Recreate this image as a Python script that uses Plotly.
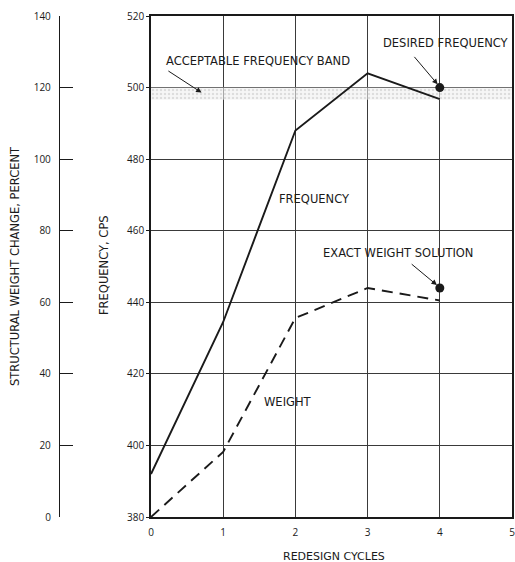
import plotly.graph_objects as go

cycles = [0, 1, 2, 3, 4]
frequency_cps = [392, 434.5, 488, 504, 496.8]
weight_pct = [0, 18.2, 55.6, 64, 60.5]
desired_cycle, desired_freq = 4, 500
exact_cycle, exact_weight_pct = 4, 64
band_low, band_high = 496.6, 500
x_ticks = [0, 1, 2, 3, 4, 5]
freq_ticks = [380, 400, 420, 440, 460, 480, 500, 520]
weight_ticks = [0, 20, 40, 60, 80, 100, 120, 140]

LFONT = "DejaVu Sans"
TFONT = "Open Sans"
INK = "#1a1a1a"
W, H = 515, 562

def px(x):   # screen pixel -> paper fraction
    return x / W

def py(y):
    return 1 - y / H

fig = go.Figure()

# acceptable frequency band (stippled)
fig.add_trace(go.Scatter(
    x=[0, 5, 5, 0, 0], y=[band_low, band_low, band_high, band_high, band_low],
    mode="lines", line=dict(width=0), fill="toself",
    fillcolor="rgba(220,220,220,0.3)",
    fillpattern=dict(shape=".", fgcolor="#c4c4c4", bgcolor="rgba(240,240,240,0.6)", size=4, solidity=0.3),
    hoverinfo="skip", showlegend=False))

fig.add_trace(go.Scatter(x=cycles, y=frequency_cps, mode="lines",
                         line=dict(color=INK, width=1.9), showlegend=False))
fig.add_trace(go.Scatter(x=cycles, y=weight_pct, yaxis="y2", mode="lines",
                         line=dict(color=INK, width=1.9, dash="11px,7px"), showlegend=False))
fig.add_trace(go.Scatter(x=[desired_cycle], y=[desired_freq], mode="markers",
                         marker=dict(color=INK, size=9), showlegend=False))
fig.add_trace(go.Scatter(x=[exact_cycle], y=[exact_weight_pct], yaxis="y2", mode="markers",
                         marker=dict(color=INK, size=9), showlegend=False))

tf = dict(family=TFONT, size=10, color=INK)
ydom = [py(517), py(16)]

fig.update_layout(
    width=W, height=H,
    margin=dict(l=0, r=0, t=0, b=0),
    paper_bgcolor="white", plot_bgcolor="white",
    font=tf,
    xaxis=dict(domain=[px(151), px(512)], range=[0, 5], tickvals=x_ticks,
               showgrid=True, gridcolor="#3a3a3a", gridwidth=1,
               showline=True, linecolor=INK, linewidth=1.5, mirror=True,
               zeroline=False, ticks="", tickfont=tf, automargin=False,
               ticklabelstandoff=5, ticklabeloverflow="allow"),
    yaxis=dict(domain=ydom, range=[380, 520], tickvals=freq_ticks,
               showgrid=True, gridcolor="#3a3a3a", gridwidth=1,
               showline=True, linecolor=INK, linewidth=1.5, mirror=True,
               zeroline=False, ticks="outside", ticklen=3, tickcolor=INK,
               tickfont=tf, automargin=False, ticklabeloverflow="allow"),
    yaxis2=dict(range=[0, 140], tickvals=weight_ticks, overlaying="y", anchor="free",
                position=px(59), side="left", showgrid=False, zeroline=False,
                showline=True, linecolor=INK, linewidth=1.3,
                ticks="inside", ticklen=13, tickcolor=INK, tickfont=tf, automargin=False,
                ticklabelstandoff=6, ticklabeloverflow="allow"),
)

ann = []
def text(x, y, s, xref="x", yref="y", angle=0, size=11.5, xanchor="center", family=LFONT):
    ann.append(dict(x=x, y=y, xref=xref, yref=yref, text=s, showarrow=False,
                    xanchor=xanchor, yanchor="middle", textangle=angle,
                    font=dict(family=family, size=size, color=INK)))

def arrow(x0, y0, x1, y1):
    ann.append(dict(x=x1, y=y1, ax=x0, ay=y0, xref="x", yref="y", axref="x", ayref="y",
                    text="", showarrow=True, arrowhead=2, arrowsize=1.1, arrowwidth=1,
                    arrowcolor=INK))

text(1.48, 507.4, "ACCEPTABLE FREQUENCY BAND")
arrow(0.22, 504.9, 0.70, 498.6)
text(4.08, 512.4, "DESIRED FREQUENCY")
arrow(3.63, 509.0, 3.97, 500.9)
text(2.27, 468.8, "FREQUENCY")
text(3.42, 453.7, "EXACT WEIGHT SOLUTION")
arrow(3.59, 451.0, 3.96, 444.8)
text(1.9, 412, "WEIGHT")

text(px(334), py(556), "REDESIGN CYCLES", xref="paper", yref="paper", size=11)
text(px(15), py(266), "STRUCTURAL WEIGHT CHANGE, PERCENT", xref="paper", yref="paper", angle=-90)
text(px(104), py(265), "FREQUENCY, CPS", xref="paper", yref="paper", angle=-90)

fig.update_layout(annotations=ann)
fig.write_html(
    "out.html",
    config={"displayModeBar": False},
    post_script="document.body.style.margin='0';document.body.style.overflow='hidden';",
)
